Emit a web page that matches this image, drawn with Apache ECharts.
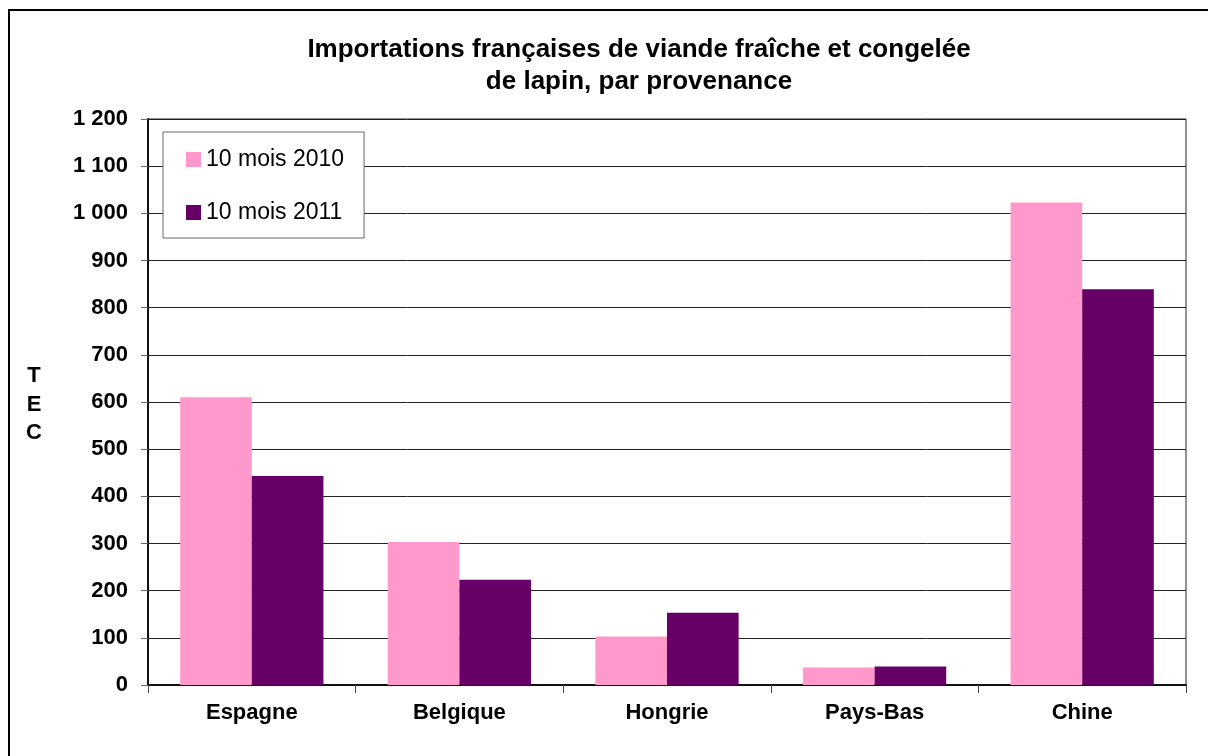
<!DOCTYPE html>
<html>
<head>
<meta charset="utf-8">
<script src="https://cdn.jsdelivr.net/npm/echarts@6/dist/echarts.min.js"></script>
<style>
  html, body { margin: 0; padding: 0; background: #fff; }
  #main { width: 1208px; height: 756px; }
</style>
</head>
<body>
<div id="main"></div>
<script>
var pays = ["Espagne", "Belgique", "Hongrie", "Pays-Bas", "Chine"];
var mois2010 = [610, 303, 103, 37, 1023];
var mois2011 = [443, 223, 153, 39, 839];
var seriesNames = ["10 mois 2010", "10 mois 2011"];

var font = "'Liberation Sans', Arial, sans-serif";

var myChart = echarts.init(document.getElementById("main"));
var option = {
    backgroundColor: "#fff",
    animation: false,
    title: {
        text: "Importations françaises de viande fraîche et congelée\nde lapin, par provenance",
        left: 634,
        top: 29,
        textAlign: "center",
        textStyle: {
            fontFamily: font,
            fontSize: 26,
            fontWeight: "bold",
            color: "#000",
            lineHeight: 32
        }
    },
    legend: {
        orient: "vertical",
        left: 163,
        top: 132,
        padding: [16, 20, 14, 23],
        backgroundColor: "#fff",
        borderColor: "#666",
        borderWidth: 1,
        borderRadius: 0,
        itemWidth: 15,
        itemHeight: 15,
        itemGap: 30,
        icon: "rect",
        data: seriesNames,
        textStyle: {
            fontFamily: font,
            fontSize: 23,
            color: "#000",
            lineHeight: 23
        }
    },
    grid: {
        left: 148,
        right: 22,
        top: 119,
        bottom: 71,
        show: true,
        borderColor: "#222",
        borderWidth: 1
    },
    xAxis: {
        type: "category",
        data: pays,
        boundaryGap: true,
        axisLine: { lineStyle: { color: "#111", width: 2 } },
        axisTick: { show: true, length: 8, lineStyle: { color: "#444" } },
        axisLabel: {
            margin: 17,
            fontFamily: font,
            fontSize: 22,
            fontWeight: "bold",
            color: "#000"
        }
    },
    yAxis: {
        type: "value",
        min: 0,
        max: 1200,
        interval: 100,
        axisLine: { show: true, lineStyle: { color: "#111", width: 2 } },
        axisTick: { show: true, length: 7, lineStyle: { color: "#666" } },
        splitLine: { lineStyle: { color: "#222", width: 1 } },
        axisLabel: {
            margin: 20,
            fontFamily: font,
            fontSize: 22,
            fontWeight: "bold",
            color: "#000",
            formatter: function (v) {
                return String(v).replace(/\B(?=(\d{3})+(?!\d))/g, " ");
            }
        }
    },
    graphic: [
        {
            type: "rect",
            shape: { x: 9, y: 10, width: 1230, height: 800 },
            style: { fill: null, stroke: "#000", lineWidth: 2 },
            silent: true
        },
        {
            type: "text",
            x: 34,
            y: 362,
            style: {
                text: "T\nE\nC",
                fontFamily: font,
                fontSize: 22,
                fontWeight: "bold",
                lineHeight: 28.5,
                fill: "#000",
                align: "center"
            }
        }
    ],
    series: [
        {
            name: seriesNames[0],
            type: "bar",
            data: mois2010,
            itemStyle: { color: "#FF99CC" },
            barGap: "0%",
            barCategoryGap: "31%"
        },
        {
            name: seriesNames[1],
            type: "bar",
            data: mois2011,
            itemStyle: { color: "#660066" },
            barGap: "0%",
            barCategoryGap: "31%"
        }
    ]
};
myChart.setOption(option);
</script>
</body>
</html>
